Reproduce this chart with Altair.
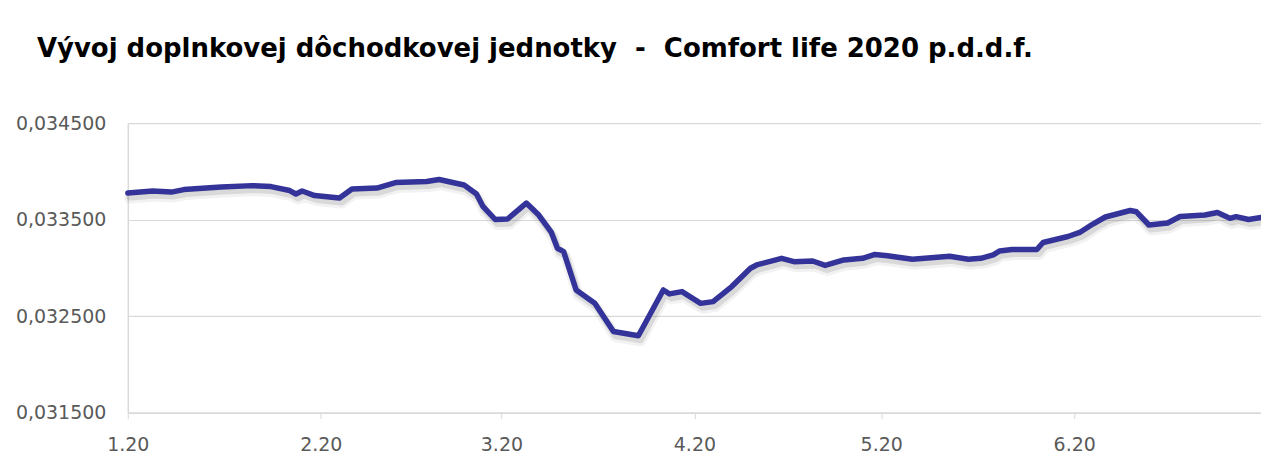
import altair as alt
import pandas as pd

# ---- data ----
dates = [
    "2020-01-01", "2020-01-05", "2020-01-08", "2020-01-10", "2020-01-16", "2020-01-21",
    "2020-01-24", "2020-01-27", "2020-01-28", "2020-01-29", "2020-01-31",
    "2020-02-04", "2020-02-06", "2020-02-10", "2020-02-13", "2020-02-18", "2020-02-20",
    "2020-02-24", "2020-02-26", "2020-02-27", "2020-02-29",
    "2020-03-02", "2020-03-05", "2020-03-07", "2020-03-09", "2020-03-10", "2020-03-11",
    "2020-03-13", "2020-03-16", "2020-03-19", "2020-03-23", "2020-03-27", "2020-03-28",
    "2020-03-30",
    "2020-04-02", "2020-04-04", "2020-04-07", "2020-04-10", "2020-04-11", "2020-04-15",
    "2020-04-17", "2020-04-20", "2020-04-22", "2020-04-25", "2020-04-28", "2020-04-30",
    "2020-05-02", "2020-05-06", "2020-05-12", "2020-05-15", "2020-05-17", "2020-05-19",
    "2020-05-20", "2020-05-22", "2020-05-26", "2020-05-27", "2020-05-31",
    "2020-06-02", "2020-06-04", "2020-06-06", "2020-06-10", "2020-06-11", "2020-06-13",
    "2020-06-16", "2020-06-18", "2020-06-22", "2020-06-24", "2020-06-26", "2020-06-27",
    "2020-06-29", "2020-07-01",
]
values = [
    0.033776, 0.033797, 0.033786, 0.033812, 0.033838, 0.033853,
    0.033843, 0.033802, 0.033766, 0.033797, 0.033750,
    0.033724, 0.033817, 0.033828, 0.033885, 0.033895, 0.033916,
    0.033859, 0.033766, 0.033641, 0.033502,
    0.033507, 0.033672, 0.033548, 0.033372, 0.033204, 0.033169,
    0.032772, 0.032635, 0.032341, 0.032297, 0.032772, 0.032731,
    0.032755,
    0.032633, 0.032651, 0.032807, 0.032997, 0.033031, 0.033100,
    0.033065, 0.033072, 0.033026, 0.033083, 0.033100, 0.033140,
    0.033127, 0.033090, 0.033121, 0.033090, 0.033100, 0.033135,
    0.033176, 0.033191, 0.033191, 0.033264, 0.033326,
    0.033372, 0.033455, 0.033528, 0.033595, 0.033582, 0.033445,
    0.033466, 0.033533, 0.033548, 0.033574, 0.033514, 0.033531,
    0.033502, 0.033522,
]
title_text = "Vývoj doplnkovej dôchodkovej jednotky \u00a0-\u00a0 Comfort life 2020 p.d.d.f."
y_ticks = [0.0315, 0.0325, 0.0335, 0.0345]
x_tick_months = [1, 2, 3, 4, 5, 6, 7]

df = pd.DataFrame({"datum": [d + "T00:00:00" for d in dates], "hodnota": values})

x_enc = alt.X(
    "datum:T",
    scale=alt.Scale(domain=[alt.DateTime(year=2020, month=1, date=1),
                            alt.DateTime(year=2020, month=7, date=1)]),
    axis=alt.Axis(
        title=None,
        values=[alt.DateTime(year=2020, month=m, date=1) for m in x_tick_months],
        format="%-m.%y",
        labelExpr="month(datum.value) == 6 ? '' : datum.label",
        grid=False, ticks=True, tickSize=6, tickColor="#D9D9D9",
        domain=True, domainColor="#D9D9D9", domainWidth=1.5,
        labelPadding=17, labelFlush=False,
    ),
)
y_enc = alt.Y(
    "hodnota:Q",
    scale=alt.Scale(domain=[0.0315, 0.0345], zero=False, nice=False),
    axis=alt.Axis(
        title=None, values=y_ticks, format=".6f",
        labelExpr="replace(datum.label, '.', ',')",
        grid=True, gridColor="#D9D9D9", gridWidth=1.2,
        ticks=False, tickSize=0, domain=True, domainColor="#D9D9D9", domainWidth=1.5,
        labelPadding=22,
    ),
)

base = alt.Chart(df).encode(x=x_enc, y=y_enc)

shadow1 = base.mark_line(color="#7f7f7f", strokeWidth=11, opacity=0.10,
                         xOffset=2, yOffset=5, strokeJoin="round", strokeCap="round")
shadow2 = base.mark_line(color="#7f7f7f", strokeWidth=7, opacity=0.22,
                         xOffset=2, yOffset=4, strokeJoin="round", strokeCap="round")
main = base.mark_line(color="#333399", strokeWidth=5.5, strokeJoin="round", strokeCap="round")

chart = (
    alt.layer(shadow1, shadow2, main)
    .properties(
        width=1135, height=290,
        autosize=alt.AutoSizeParams(type="none"),
        padding={"left": 120, "top": 115, "right": 0, "bottom": 45},
        title=alt.TitleParams(
            text=title_text, anchor="start", frame="group", dx=-91,
            font="DejaVu Sans", fontSize=26, fontWeight="bold", color="#000000",
            offset=52,
        ),
    )
    .configure_view(stroke=None)
    .configure_axis(labelFont="DejaVu Sans", labelFontSize=19, labelColor="#595959")
)

chart.save("out.html", embed_options={"renderer": "svg", "actions": False})
